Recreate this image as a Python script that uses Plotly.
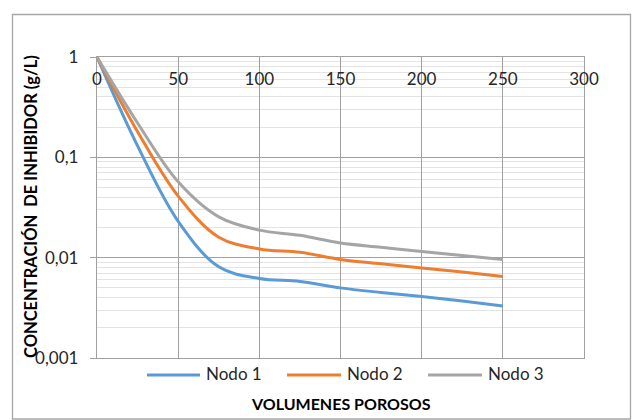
import plotly.graph_objects as go

volumenes = [0, 25, 50, 75, 100, 125, 150, 175, 200, 225, 250]
nodo1 = [1.0, 0.13, 0.023, 0.0081, 0.0062, 0.0058, 0.0050, 0.0045, 0.0041, 0.0037, 0.0033]
nodo2 = [1.0, 0.18, 0.041, 0.016, 0.0122, 0.0113, 0.0096, 0.0087, 0.0079, 0.0072, 0.0065]
nodo3 = [1.0, 0.22, 0.057, 0.0255, 0.0188, 0.0167, 0.0140, 0.0127, 0.0115, 0.0105, 0.0096]
series_names = ["Nodo 1", "Nodo 2", "Nodo 3"]
colors = ["#5b9bd5", "#ed7d31", "#a5a5a5"]
x_ticks = [0, 50, 100, 150, 200, 250, 300]
y_tickvals = [0.001, 0.01, 0.1, 1]
y_ticktext = ["0,001", "0,01", "0,1", "1"]

FONT = "Lato"
fig = go.Figure()
for name, ys, c in zip(series_names, [nodo1, nodo2, nodo3], colors):
    fig.add_trace(go.Scatter(x=volumenes, y=ys, name=name, mode="lines", showlegend=False,
                             line=dict(color=c, width=3, shape="spline", smoothing=1)))

# plot area pixel frame
L, R, T, B = 97, 584, 57, 358
W, H = 632, 420
pw, ph = R - L, B - T

def px(xp):
    return (xp - L) / pw

def py(yp):
    return (B - yp) / ph

fig.update_layout(
    width=W, height=H,
    margin=dict(l=L, r=W - R, t=T, b=H - B, autoexpand=False),
    paper_bgcolor="white", plot_bgcolor="white",
    font=dict(family=FONT, size=17, color="#404040"),
    showlegend=False,
    xaxis=dict(range=[0, 300], tickvals=x_ticks, side="top", ticklabelposition="inside",
               ticklabeloverflow="allow", ticklabelstandoff=16,
               showgrid=True, gridcolor="#a0a0a0", gridwidth=1.4,
               showline=True, linecolor="#a0a0a0", linewidth=1.4, mirror=True,
               ticks="", zeroline=False, tickfont=dict(size=17, color="#262626")),
    yaxis=dict(type="log", range=[-3, 0], tickvals=y_tickvals, ticktext=y_ticktext,
               ticklabeloverflow="allow", ticklabelstandoff=8,
               showgrid=True, gridcolor="#a0a0a0", gridwidth=1.4,
               showline=True, linecolor="#a0a0a0", linewidth=1.4, mirror=True,
               ticks="outside", ticklen=6, tickcolor="#a0a0a0", tickwidth=1.4,
               tickfont=dict(size=17, color="#262626"),
               minor=dict(dtick="D1", showgrid=True, gridcolor="#e3e3e3", gridwidth=1.4, ticks="")),
)

# axis titles
fig.add_annotation(text="<b>CONCENTRACIÓN  DE INHIBIDOR (g/L)</b>", xref="paper", yref="paper",
                   x=px(31), y=py(207), xanchor="center", yanchor="middle", textangle=-90,
                   showarrow=False, font=dict(size=16.5, color="#000000"))
fig.add_annotation(text="<b>VOLUMENES POROSOS</b>", xref="paper", yref="paper",
                   x=0.5, y=py(404), xanchor="center", yanchor="middle",
                   showarrow=False, font=dict(size=16, color="#000000"))

# legend (drawn manually to match the long legend keys)
leg_y = 375
leg_line_x = [(147, 200), (287, 341), (428, 482)]
for name, c, (a, b) in zip(series_names, colors, leg_line_x):
    fig.add_shape(type="line", xref="paper", yref="paper", x0=px(a), x1=px(b),
                  y0=py(leg_y), y1=py(leg_y), line=dict(color=c, width=3))
    fig.add_annotation(text=name, xref="paper", yref="paper", x=px(b + 4), y=py(leg_y - 1),
                       xanchor="left", yanchor="middle", showarrow=False,
                       font=dict(size=17, color="#262626"))

# chart border
fig.add_shape(type="rect", xref="paper", yref="paper",
              x0=px(12.5), x1=px(630.5), y0=py(419), y1=py(14.5),
              line=dict(color="#a6a6a6", width=1.3), layer="below")

fig.write_html("out.html")
